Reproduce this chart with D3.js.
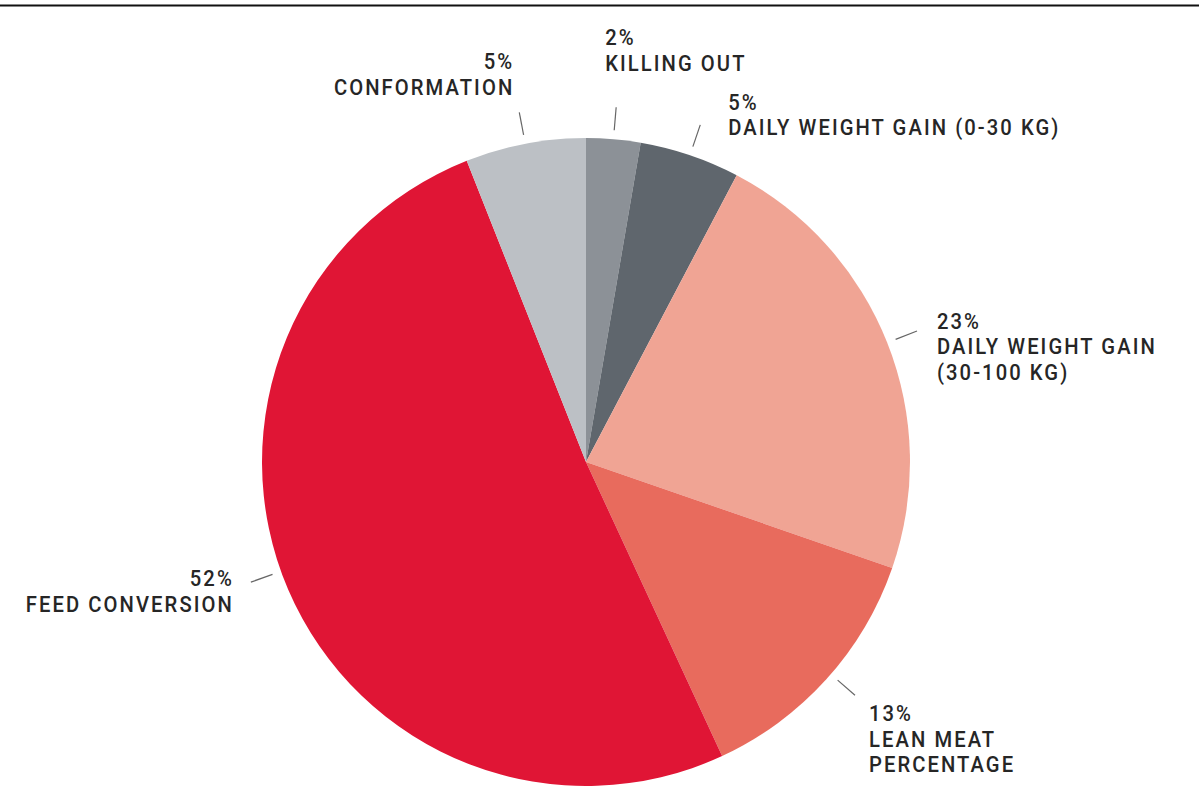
<!DOCTYPE html>
<html>
<head>
<meta charset="utf-8">
<script src="https://cdn.jsdelivr.net/npm/d3@7/dist/d3.min.js"></script>
<style>
  html, body { margin: 0; padding: 0; background: #fff; }
  #chart { width: 1199px; height: 810px; }
  text { font-family: Roboto, "Liberation Sans", sans-serif; font-size: 21.5px; font-weight: 500; letter-spacing: 2.2px; fill: #262626; }
</style>
</head>
<body>
<div id="chart"></div>
<script>
// ========= DATA =========
// orden horario desde las 12
const categories = ["KILLING OUT", "DAILY WEIGHT GAIN (0-30 KG)", "DAILY WEIGHT GAIN|(30-100 KG)", "LEAN MEAT|PERCENTAGE", "FEED CONVERSION", "CONFORMATION"];
const pctLabels  = ["2%", "5%", "23%", "13%", "52%", "5%"];
// tamaño de cada porción
const shares     = [2.7, 5.0, 22.6, 12.8, 50.9, 6.0];
const colors     = ["#8c9197", "#5f666d", "#f0a494", "#e86b5d", "#e01535", "#bcc0c5"];

// ========= LAYOUT =========
const W = 1199, H = 810;
const cx = 586, cy = 462, R = 324;
const lineIn = R + 9, lineOut = R + 32;
const lineH = 25.5;
const squeeze = 0.94; // letra algo condensada
// da: giro de la linea guia (grados), dx/dy: texto respecto al extremo
const labelPos = [
  { da: 0,    dx: -11, dy: -62, anchor: "start" },
  { da: 0,    dx: 28,  dy: -15, anchor: "start" },
  { da: 0,    dx: 20,  dy: -2,  anchor: "start" },
  { da: -1.2, dx: 14,  dy: 26,  anchor: "start" },
  { da: 3.5,  dx: -17, dy: 4,   anchor: "end" },
  { da: 0,    dx: -5,  dy: -43, anchor: "end" }
];

const svg = d3.select("#chart").append("svg")
  .attr("width", W).attr("height", H);

// linea superior
svg.append("rect")
  .attr("x", 0).attr("y", 4.5).attr("width", W).attr("height", 2)
  .attr("fill", "#111");

const g = svg.append("g").attr("transform", `translate(${cx},${cy})`);

const pie = d3.pie().sort(null).value(d => d);
const arcs = pie(shares);
const arc = d3.arc().innerRadius(0).outerRadius(R);

g.selectAll("path.slice")
  .data(arcs)
  .join("path")
  .attr("class", "slice")
  .attr("d", arc)
  .attr("fill", (d, i) => colors[i]);

function polar(r, a){
  return [Math.sin(a) * r, -Math.cos(a) * r];
}

arcs.forEach((d, i) => {
  const lp = labelPos[i];
  const mid = (d.startAngle + d.endAngle) / 2 + lp.da * Math.PI / 180;
  const p0 = polar(lineIn, mid);
  const p1 = polar(lineOut, mid);

  g.append("line")
    .attr("x1", p0[0]).attr("y1", p0[1])
    .attr("x2", p1[0]).attr("y2", p1[1])
    .attr("stroke", "#666")
    .attr("stroke-width", 1.2);

  const lines = [pctLabels[i]].concat(categories[i].split("|"));
  const t = g.append("text")
    .attr("text-anchor", lp.anchor)
    .attr("transform", `translate(${p1[0] + lp.dx},${p1[1] + lp.dy}) scale(${squeeze},1)`);
  lines.forEach((s, k) => {
    t.append("tspan")
      .attr("x", 0)
      .attr("y", k * lineH)
      .text(s);
  });
});
</script>
</body>
</html>
